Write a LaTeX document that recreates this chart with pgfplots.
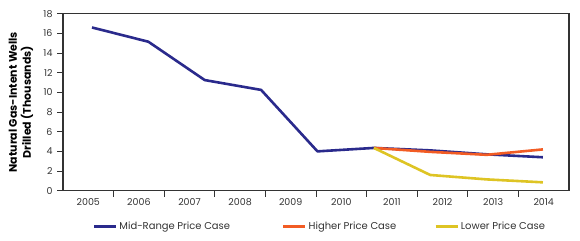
\documentclass[border=0pt]{standalone}
\usepackage{fontspec}
\setmainfont{Poppins}
\usepackage{pgfplots}
\pgfplotsset{compat=1.18}

\definecolor{midblue}{RGB}{42,42,140}
\definecolor{highorange}{RGB}{242,92,36}
\definecolor{lowyellow}{RGB}{222,196,36}
\definecolor{axisgray}{RGB}{51,51,51}

\begin{document}
\begin{tikzpicture}
\begin{axis}[
    name=ax,
    scale only axis,
    width=506bp, height=177bp,
    xmin=0, xmax=10, ymin=0, ymax=18,
    ytick={0,2,...,18},
    xtick={1,...,9},
    xticklabels={},
    extra x ticks={0.5,1.5,...,9.5},
    extra x tick labels={2005,2006,2007,2008,2009,2010,2011,2012,2013,2014},
    extra x tick style={major tick length=0pt},
    tick align=outside,
    major tick length=6bp,
    tick style={axisgray, line width=1pt},
    axis line style={axisgray, line width=1.3pt},
    ytick pos=left, xtick pos=bottom,
    /pgf/number format/assume math mode=true,
    tick label style={font=\fontsize{9.5}{11}\selectfont, text=axisgray},
    yticklabel style={xshift=-1bp},
    xticklabel style={yshift=-4bp},
    ylabel={Natural Gas-Intent Wells\\Drilled (Thousands)},
    ylabel style={at={(axis description cs:-0.083,0.5)}, anchor=center,
        align=center, font=\fontsize{11}{14}\bfseries\selectfont},
    legend columns=3,
    legend style={at={(0.0587,-0.2034)}, anchor=west, draw=none, fill=none,
        inner sep=0pt, font=\fontsize{10}{12}\selectfont, text=axisgray,
        /tikz/every even column/.append style={column sep=36bp}},
    legend image code/.code={\draw[#1] (0bp,0bp) -- (22bp,0bp);},
    every axis plot/.append style={line width=2.6bp, line join=round},
]
\addplot[midblue] coordinates {
    (0.573,16.6) (1.687,15.15) (2.801,11.25) (3.915,10.25) (5.029,4.0)
    (6.143,4.35) (7.257,4.1) (8.371,3.7) (9.485,3.4)};
\addlegendentry{Mid-Range Price Case\rule{14bp}{0pt}}
\addplot[highorange] coordinates {
    (6.143,4.35) (7.257,3.95) (8.371,3.65) (9.485,4.2)};
\addlegendentry{Higher Price Case}
\addplot[lowyellow] coordinates {
    (6.143,4.35) (7.257,1.6) (8.371,1.15) (9.485,0.85)};
\addlegendentry{Lower Price Case}
\end{axis}
\path (ax.south west) ++(-63bp,-50.3bp) rectangle ++(580bp,241bp);
\end{tikzpicture}
\end{document}
